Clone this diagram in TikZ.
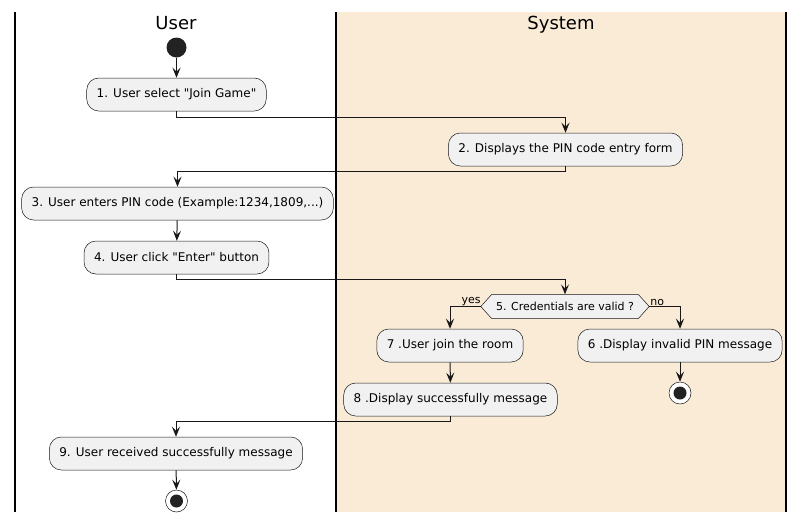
\documentclass[tikz,border=0pt]{standalone}
\usepackage{fontspec}
\setmainfont{DejaVu Sans}[Ligatures=TeXOff]
\usetikzlibrary{arrows.meta,calc}
\definecolor{linec}{HTML}{181818}
\definecolor{boxfill}{HTML}{F1F1F1}
\definecolor{lanebg}{HTML}{FAEBD7}
\definecolor{startc}{HTML}{222222}
\begin{document}
\begin{tikzpicture}[x=1pt,y=-1pt,
  act/.style={draw=linec, line width=0.5pt, fill=boxfill, rounded corners=12pt,
    minimum height=33pt, inner xsep=10pt, inner ysep=0pt,
    font=\fontsize{12}{14}\selectfont},
  lanetitle/.style={font=\fontsize{18}{21}\selectfont, anchor=base, inner sep=0pt},
  arr/.style={draw=linec, line width=1pt, -{Stealth[length=10pt,width=8pt,inset=4pt]}},
  lbl/.style={font=\fontsize{11}{13}\selectfont, inner sep=1pt},
  lane/.style={draw=black, line width=1.5pt}
]
\useasboundingbox (0,0) rectangle (804,523);
% swimlanes
\fill[lanebg] (336,12) rectangle (786,512);
\draw[lane] (15,12) -- (15,512);
\draw[lane] (336,12) -- (336,512);
\draw[lane] (786,12) -- (786,512);
\node[lanetitle] (tuser) at (176,29) {User};
\node[lanetitle] (tsys) at (561,29) {System};
% start
\node[circle, fill=startc, minimum size=20pt, inner sep=0pt] (start) at (176.5,47.5) {};
% activities
\node[act] (b1) at (176.5,94.5) {1. User select "Join Game"};
\node[act] (b2) at (565.5,149.5) {2. Displays the PIN code entry form};
\node[act] (b3) at (177.5,203.5) {3. User enters PIN code (Example:1234,1809,...)};
\node[act] (b4) at (176.5,257.5) {4. User click "Enter" button};
% decision
\node[inner sep=0pt, minimum width=146pt, minimum height=24pt,
  font=\fontsize{11}{13}\selectfont] (d) at (565,306.5) {5. Credentials are valid ?};
\coordinate (dl) at ($(d.west)+(-11,0)$);
\coordinate (dr) at ($(d.east)+(11,0)$);
\draw[draw=linec, line width=0.5pt, fill=boxfill] (d.north west) -- (d.north east) -- (dr) -- (d.south east) -- (d.south west) -- (dl) -- cycle;
\node[font=\fontsize{11}{13}\selectfont, inner sep=0pt] at (d) {5. Credentials are valid ?};
\node[act] (b7) at (450,345.5) {7 .User join the room};
\node[act] (b6) at (680,345.5) {6 .Display invalid PIN message};
\node[act] (b8) at (450.5,399.5) {8 .Display successfully message};
\node[act] (b9) at (176,453.5) {9. User received successfully message};
% ends
\node[circle, draw=linec, line width=0.5pt, fill=white, minimum size=22pt, inner sep=0pt] (end1) at (680,393) {};
\fill[startc] (end1) circle (6.5pt);
\node[circle, draw=linec, line width=0.5pt, fill=white, minimum size=22pt, inner sep=0pt] (end2) at (176.5,501) {};
\fill[startc] (end2) circle (6.5pt);
% connectors
\draw[arr] (start) -- (b1);
\draw[arr] (b1.south) -- ++(0,6) -| (b2.north);
\draw[arr] (b2.south) -- ++(0,5) -| (b3.north);
\draw[arr] (b3) -- (b4);
\draw[arr] (b4.south) -- ++(0,5) -| (d.north);
\draw[arr] (dl) -| (b7.north);
\draw[arr] (dr) -| (b6.north);
\draw[arr] (b7) -- (b8);
\draw[arr] (b6) -- (end1);
\draw[arr] (b8.south) -- ++(0,5) -| (b9.north);
\draw[arr] (b9) -- (end2);
% labels
\node[lbl, anchor=south east] (lyes) at ($(dl)+(1,0)$) {yes};
\node[lbl, anchor=south west] (lno) at ($(dr)+(0,0)$) {no};
\end{tikzpicture}
\end{document}
